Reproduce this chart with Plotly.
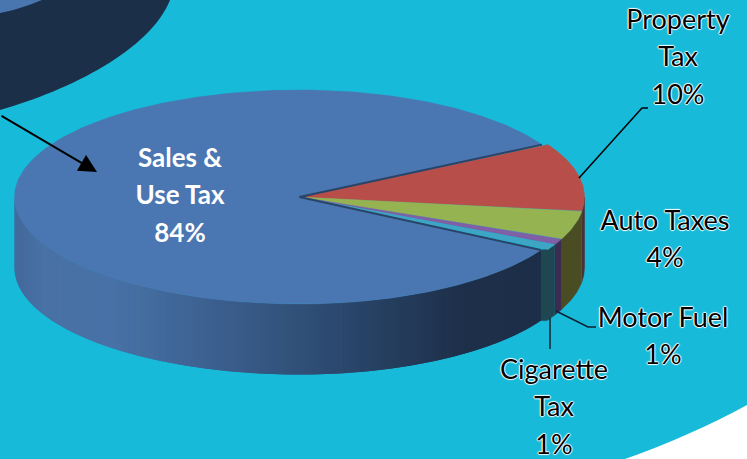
import numpy as np
import plotly.graph_objects as go

categories = ["Sales &<br>Use Tax", "Property<br>Tax", "Auto Taxes", "Motor Fuel", "Cigarette<br>Tax"]
shares = [83.6, 10.3, 4.3, 0.9, 0.9]
top_colors = ["#4A76B1", "#B84E4A", "#96B352", "#7F5FA5", "#3FA5C4"]
wall_colors = [None, "#4F2F35", "#4A4D24", "#3D2C52", "#1F4752"]
label_xy = [(180, 160), (678, 22), (665, 223), (663, 320), (554, 372)]
label_colors = ["white", "black", "black", "black", "black"]

CX, CY, RX, RY, DEPTH = 299.5, 197.0, 285.0, 107.0, 70.5
SALES_PULL = 7.0          # the large slice stops short of the rim on its right side
START_DEG = 29.3          # where the first boundary (Sales/Property) sits
BG = "#17BBD9"
WALL_X = [14, 40, 110, 200, 300, 400, 460, 540]
WALL_R = [67, 72, 72, 62, 48, 36, 30, 29]
WALL_G = [105, 113, 115, 98, 80, 60, 48, 46]
WALL_B = [155, 165, 168, 146, 120, 92, 74, 72]


def pt(deg, dy=0.0, pull=0.0):
    a = np.radians(deg)
    c = np.cos(a)
    return CX + (RX - pull * (c > 0)) * c, CY - RY * np.sin(a) + dy


def sales_wall_color(x):
    return "rgb(%d,%d,%d)" % (np.interp(x, WALL_X, WALL_R), np.interp(x, WALL_X, WALL_G), np.interp(x, WALL_X, WALL_B))


fig = go.Figure()

# slice angle ranges derived from the shares (clockwise from START_DEG)
spans = {}
ang = START_DEG
for name, s in zip(categories[1:] + categories[:1], shares[1:] + shares[:1]):
    spans[name] = (ang - s * 3.6, ang)
    ang -= s * 3.6


def add_poly(x, y, col, lw=0.0):
    fig.add_trace(go.Scatter(x=x, y=y, mode="lines", fill="toself", fillcolor=col,
                             line=dict(color=col, width=lw), hoverinfo="skip", showlegend=False))


wall_end = spans[categories[0]][1]

# side walls of the small slices
for i in [1, 2, 3, 4]:
    lo, hi = spans[categories[i]]
    a, b = max(lo, -180), min(hi, 0)
    arc = np.linspace(a, b, 30)
    xs, ys = pt(arc)
    xb, yb = pt(arc[::-1], DEPTH)
    if i == 4:
        # the cigarette wall closes the step up to the pulled-in Sales wall
        x0, y0 = pt(wall_end, pull=SALES_PULL)
        x1, y1 = pt(wall_end, DEPTH, pull=SALES_PULL)
        xs, ys = np.r_[x0 - 1, xs], np.r_[y0, ys]
        xb, yb = np.r_[xb, x1 - 1], np.r_[yb, y1]
    add_poly(np.r_[xs, xb], np.r_[ys, yb], wall_colors[i], 0.5)

# gradient wall of the Sales slice: overlapping steps, drawn left to right
for e0 in np.arange(-180, wall_end, 0.9):
    e1 = min(e0 + 1.8, wall_end)
    arc = np.linspace(e0, e1, 5)
    xs, ys = pt(arc, pull=SALES_PULL)
    xb, yb = pt(arc[::-1], DEPTH, pull=SALES_PULL)
    add_poly(np.r_[xs, xb], np.r_[ys, yb], sales_wall_color(xs[0]))

# top faces
for i in [1, 2, 3, 4, 0]:
    lo, hi = spans[categories[i]]
    arc = np.linspace(lo, hi, 300)
    xs, ys = pt(arc, pull=SALES_PULL if i == 0 else 0.0)
    add_poly(np.r_[CX, xs, CX], np.r_[CY, ys, CY], top_colors[i], 0.5)

# dark edge along the Sales slice radii
lo, hi = spans[categories[0]]
for d in (lo, hi):
    x1, y1 = pt(d, pull=SALES_PULL)
    fig.add_trace(go.Scatter(x=[CX, x1], y=[CY, y1], mode="lines", line=dict(color="#2A4468", width=2),
                             hoverinfo="skip", showlegend=False))

# labels, one text mark per line so that the line pitch is controlled
PITCH = 37.5
HALO = "-1px 0 1px white, 1px 0 1px white, 0 -1px 1px white, 0 1px 1px white"
for i, name in enumerate(categories):
    lines = name.split("<br>") + ["%d%%" % round(shares[i])]
    x0, y0 = label_xy[i]
    for k, line in enumerate(lines):
        fig.add_trace(go.Scatter(x=[x0], y=[y0 + k * PITCH], mode="text", text=[line],
                                 textposition="middle center",
                                 textfont=dict(family="Lato", size=26 if i == 0 else 27, color=label_colors[i],
                                               weight="bold" if i == 0 else "normal",
                                               shadow="none" if i == 0 else HALO),
                                 hoverinfo="skip", showlegend=False))

shapes = [
    # dark ellipse at top left and its blue rim
    dict(type="path", path="M 0 110 C 70 90 150 50 170 0 L 0 0 Z", fillcolor="#1C2F48", line=dict(width=0), layer="below"),
    dict(type="path", path="M 0 13 C 15 10 30 5 42 0 L 0 0 Z", fillcolor="#4A76B0", line=dict(width=0), layer="below"),
    # white corner at lower right
    dict(type="path", path="M 625 459 C 670 443 710 425 747 405 L 747 459 Z", fillcolor="white", line=dict(width=0), layer="below"),
    # leader lines
    dict(type="path", path="M 579 178 L 642 108 L 648 108", line=dict(color="black", width=1.5)),
    dict(type="path", path="M 556 311 L 588 327 L 596 327", line=dict(color="#102030", width=1.5)),
    dict(type="line", x0=550, y0=318, x1=550, y1=349, line=dict(color="#102030", width=1.5)),
]

fig.update_layout(
    width=747, height=459, margin=dict(l=0, r=0, t=0, b=0),
    paper_bgcolor=BG, plot_bgcolor=BG, showlegend=False, shapes=shapes,
    xaxis=dict(range=[0, 747], visible=False, fixedrange=True),
    yaxis=dict(range=[459, 0], visible=False, fixedrange=True),
    annotations=[dict(x=97, y=172, ax=0, ay=115, xref="x", yref="y", axref="x", ayref="y", text="",
                      showarrow=True, arrowhead=2, arrowsize=1.8, arrowwidth=2, arrowcolor="black")],
)
fig.write_html("out.html", config={"displayModeBar": False}, post_script="document.body.style.margin='0';")
